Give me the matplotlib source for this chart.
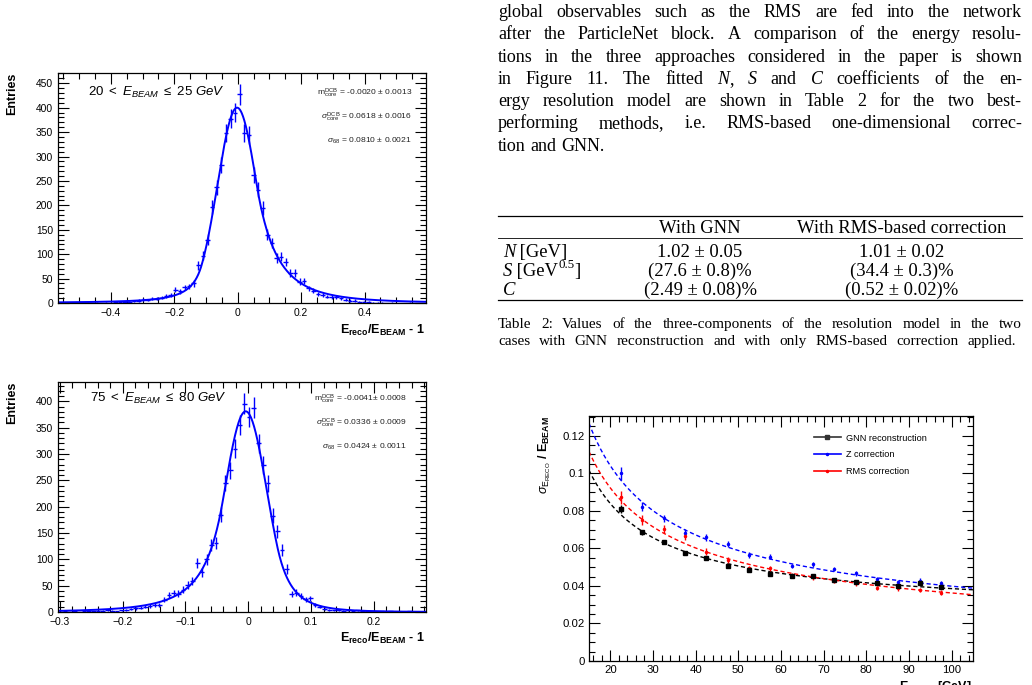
import numpy as np
import matplotlib
matplotlib.use('Agg')
import matplotlib.pyplot as plt
from matplotlib.ticker import MultipleLocator
from matplotlib.lines import Line2D

plt.rcParams['font.family'] = ['Liberation Sans', 'DejaVu Sans']
plt.rcParams['mathtext.fontset'] = 'custom'
plt.rcParams['mathtext.rm'] = 'Liberation Sans'
plt.rcParams['mathtext.it'] = 'Liberation Sans:italic'
plt.rcParams['mathtext.bf'] = 'Liberation Sans:bold'
plt.rcParams['mathtext.sf'] = 'Liberation Sans'
SERIF = ['Liberation Serif', 'DejaVu Serif']

W, H = 1032, 685

# ---------------- data ----------------
# histogram 20 < E_BEAM <= 25 GeV (80 bins)
top_range = (-0.567, 0.594)
top_counts = [0, 0, 0, 0, 0, 0, 1, 0, 1, 0,
              1, 1, 2, 2, 3, 3, 4, 5, 7, 6,
              9, 9, 11, 14, 17, 27, 24, 32, 34, 40,
              77, 97, 130, 196, 237, 283, 348, 377, 390, 427,
              348, 344, 262, 232, 194, 140, 123, 92, 95, 84,
              62, 62, 44, 45, 30, 25, 19, 16, 13, 12,
              12, 10, 7, 5, 5, 3, 3, 2, 1, 1,
              1, 0, 1, 0, 0, 0, 1, 0, 0, 0]
top_fit = dict(amp=400, mu=-0.0020, sig=0.0618, aL=1.8, nL=2.0, aR=1.0, nR=4.0)
top_title = r'$\mathit{20\ <\ E_{BEAM}}\ \leq\ \mathit{25\ GeV}$'
top_stats = [r'$\mathrm{m^{DCB}_{core}}$ = -0.0020 $\pm$ 0.0013',
             r'$\sigma^{\mathrm{DCB}}_{\mathrm{core}}$ = 0.0618 $\pm$ 0.0016',
             r'$\sigma_{\mathrm{68}}$ = 0.0810 $\pm$ 0.0021']

# histogram 75 < E_BEAM <= 80 GeV (78 bins)
bot_range = (-0.303, 0.283)
bot_counts = [0, 1, 0, 1, 0, 1, 1, 1, 2, 2,
              3, 2, 1, 3, 4, 6, 7, 8, 10, 12,
              13, 14, 23, 33, 36, 35, 42, 51, 59, 93,
              75, 100, 127, 131, 185, 245, 269, 310, 355, 395,
              370, 388, 320, 279, 244, 183, 153, 118, 82, 34,
              37, 31, 24, 26, 13, 10, 6, 4, 3, 3,
              2, 3, 2, 3, 2, 1, 1, 1, 1, 0,
              1, 0, 0, 0, 1, 0, 0, 0]
bot_fit = dict(amp=381, mu=-0.0041, sig=0.0336, aL=1.1, nL=4.0, aR=1.5, nR=5.0)
bot_title = r'$\mathit{75\ <\ E_{BEAM}}\ \leq\ \mathit{80\ GeV}$'
bot_stats = [r'$\mathrm{m^{DCB}_{core}}$ = -0.0041$\pm$ 0.0008',
             r'$\sigma^{\mathrm{DCB}}_{\mathrm{core}}$ = 0.0336 $\pm$ 0.0009',
             r'$\sigma_{\mathrm{68}}$ = 0.0424 $\pm$ 0.0011']

# resolution vs beam energy
e_beam = [22.5, 27.5, 32.5, 37.5, 42.5, 47.5, 52.5, 57.5,
          62.5, 67.5, 72.5, 77.5, 82.5, 87.5, 92.5, 97.5]
gnn_res = [0.0810, 0.0685, 0.0634, 0.0575, 0.0549, 0.0508, 0.0485, 0.0463,
           0.0454, 0.0454, 0.0431, 0.0422, 0.0417, 0.0401, 0.0414, 0.0396]
gnn_err = [0.0020, 0.0015, 0.0012, 0.0012, 0.0011, 0.0011, 0.0010, 0.0010,
           0.0010, 0.0010, 0.0010, 0.0010, 0.0010, 0.0010, 0.0010, 0.0010]
z_res = [0.0999, 0.0822, 0.0760, 0.0683, 0.0659, 0.0623, 0.0564, 0.0556,
         0.0506, 0.0515, 0.0490, 0.0467, 0.0437, 0.0422, 0.0428, 0.0414]
z_err = [0.0035, 0.0025, 0.0020, 0.0020, 0.0018, 0.0016, 0.0015, 0.0014,
         0.0013, 0.0013, 0.0012, 0.0012, 0.0012, 0.0012, 0.0012, 0.0012]
rms_res = [0.0872, 0.0751, 0.0703, 0.0667, 0.0582, 0.0538, 0.0493, 0.0493,
           0.0454, 0.0446, 0.0428, 0.0414, 0.0390, 0.0387, 0.0378, 0.0364]
rms_err = [0.0035, 0.0025, 0.0022, 0.0020, 0.0018, 0.0016, 0.0015, 0.0014,
           0.0013, 0.0013, 0.0012, 0.0012, 0.0012, 0.0012, 0.0012, 0.0012]
# N [GeV], S [GeV^0.5], C of the resolution model
gnn_nsc = (1.02, 0.276, 0.0249)
rms_nsc = (1.01, 0.344, 0.0052)
z_nsc = (1.20, 0.380, 0.0)

paragraph = [
    "global observables such as the RMS are fed into the network",
    "after the ParticleNet block. A comparison of the energy resolu-",
    "tions in the three approaches considered in the paper is shown",
    "in Figure 11.  The fitted *N*, *S* and *C* coefficients of the en-",
    "ergy resolution model are shown in Table 2 for the two best-",
    "performing methods, i.e. RMS-based one-dimensional correc-",
    "tion and GNN.",
]
table_header = ["With GNN", "With RMS-based correction"]
table_rows = [
    ([("N", "i"), (" [GeV]", "r")], "1.02 \u00b1 0.05", "1.01 \u00b1 0.02"),
    ([("S", "i"), (" [GeV", "r"), ("0.5", "sup"), ("]", "r")], "(27.6 \u00b1 0.8)%", "(34.4 \u00b1 0.3)%"),
    ([("C", "i")], "(2.49 \u00b1 0.08)%", "(0.52 \u00b1 0.02)%"),
]
caption = [
    "Table 2: Values of the three-components of the resolution model in the two",
    "cases with GNN reconstruction and with only RMS-based correction applied.",
]


def fx(x):
    return x / W


def fy(y):
    return 1 - y / H


def dcb(x, amp, mu, sig, aL, nL, aR, nR):
    t = (x - mu) / sig
    y = np.exp(-0.5 * t ** 2)
    l = t < -aL
    y[l] = np.exp(-0.5 * aL ** 2) * (aL / nL * (nL / aL - aL - t[l])) ** (-nL)
    r = t > aR
    y[r] = np.exp(-0.5 * aR ** 2) * (aR / nR * (nR / aR - aR + t[r])) ** (-nR)
    return amp * y


def resol(e, nsc):
    n, s, c = nsc
    return np.sqrt((n / e) ** 2 + (s / np.sqrt(e)) ** 2 + c ** 2)


fig = plt.figure(figsize=(W / 100, H / 100), dpi=100)


def root_axes(rect):
    ax = fig.add_axes([fx(rect[0]), fy(rect[3]), (rect[2] - rect[0]) / W, (rect[3] - rect[1]) / H])
    ax.tick_params(which='both', direction='in', top=True, right=True, width=0.8, colors='black')
    ax.tick_params(which='major', length=8)
    ax.tick_params(which='minor', length=4)
    for s in ax.spines.values():
        s.set_linewidth(0.9)
    return ax


def draw_hist(rect, rng, counts, fit, title, stats, xmaj, xmin, ylim, ypix, title_xy, stats_x, stats_y):
    ax = root_axes(rect)
    edges = np.linspace(rng[0], rng[1], len(counts) + 1)
    centers = 0.5 * (edges[1:] + edges[:-1])
    half = 0.5 * (edges[1] - edges[0])
    c = np.array(counts, dtype=float)
    ax.errorbar(centers, c, xerr=half, yerr=np.sqrt(c), fmt='none', ecolor='blue', elinewidth=1.0, capsize=0)
    xs = np.linspace(rng[0], rng[1], 1200)
    ax.plot(xs, dcb(xs, **fit), color='blue', lw=1.4)
    ax.set_xlim(rng)
    ax.set_ylim(ylim)
    ax.xaxis.set_major_locator(MultipleLocator(xmaj))
    ax.xaxis.set_minor_locator(MultipleLocator(xmin))
    ax.yaxis.set_major_locator(MultipleLocator(50))
    ax.yaxis.set_minor_locator(MultipleLocator(10))
    ax.tick_params(labelsize=7.4, pad=3.5)
    ax.xaxis.set_major_formatter(matplotlib.ticker.FuncFormatter(lambda v, p: ('%g' % round(v, 3)).replace('-', '\u2212')))
    fig.text(fx(12), fy(ypix[0]), 'Entries', rotation=90, ha='center', va='top', fontsize=9, weight='bold')
    fig.text(fx(425), fy(ypix[1]), r'$\mathbf{E_{reco}/E_{BEAM}}$ - 1', ha='right', va='center',
             fontsize=9, weight='bold')
    fig.text(fx(title_xy[0]), fy(title_xy[1]), title, ha='left', va='center', fontsize=9.5)
    for s, yy in zip(stats, stats_y):
        fig.text(fx(stats_x), fy(yy), s, ha='right', va='center', fontsize=6.1, color='#222222')
    return ax


draw_hist((58, 73, 426, 303), top_range, top_counts, top_fit, top_title, top_stats,
          0.2, 0.05, (0, 471), (73, 330), (88, 92), 412, (93, 117, 141))
draw_hist((58, 382, 426, 612), bot_range, bot_counts, bot_fit, bot_title, bot_stats,
          0.1, 0.02, (0, 436.7), (382, 638), (90, 398), 407, (399, 423, 447))

# ---------------- resolution plot ----------------
ax = root_axes((589, 416, 973, 661))
es = np.linspace(15, 105, 300)
ax.plot(es, resol(es, gnn_nsc), color='black', lw=1.0, ls=(0, (3, 2)))
ax.plot(es, resol(es, z_nsc), color='blue', lw=1.0, ls=(0, (3, 2)))
ax.plot(es, resol(es, rms_nsc), color='red', lw=1.0, ls=(0, (3, 2)))
ax.errorbar(e_beam, z_res, yerr=z_err, fmt='.', color='blue', ms=3, elinewidth=1.0, capsize=0)
ax.errorbar(e_beam, rms_res, yerr=rms_err, fmt='.', color='red', ms=3, elinewidth=1.0, capsize=0)
ax.errorbar(e_beam, gnn_res, yerr=gnn_err, fmt='s', color='black', ms=3.2, elinewidth=1.0, capsize=0)
ax.set_xlim(15, 105)
ax.set_ylim(0, 0.1305)
ax.xaxis.set_major_locator(MultipleLocator(10))
ax.xaxis.set_minor_locator(MultipleLocator(2))
ax.yaxis.set_major_locator(MultipleLocator(0.02))
ax.yaxis.set_minor_locator(MultipleLocator(0.005))
ax.yaxis.set_major_formatter(matplotlib.ticker.FuncFormatter(lambda v, p: '%g' % round(v, 3)))
ax.tick_params(labelsize=8.2, pad=3)
handles = [Line2D([], [], color='#333333', marker='s', ms=3.2, lw=1.2),
           Line2D([], [], color='blue', marker='.', ms=3, lw=1.2),
           Line2D([], [], color='red', marker='.', ms=3, lw=1.2)]
ax.legend(handles, ['GNN reconstruction', 'Z correction', 'RMS correction'], loc='upper left',
          bbox_to_anchor=(0.585, 0.928), frameon=False, fontsize=6.6, handlelength=3.0,
          handletextpad=0.5, labelspacing=0.85, borderpad=0, borderaxespad=0)
fig.text(fx(545), fy(416), r'$\sigma_{\mathrm{E_{RECO}}}$ $\mathbf{/\ E_{BEAM}}$', rotation=90,
         ha='center', va='top', fontsize=9, weight='bold')
fig.text(fx(972), fy(679), r'$\mathbf{E_{BEAM}}$ [GeV]', ha='right', va='top', fontsize=9, weight='bold')

# ---------------- text column ----------------
renderer = fig.canvas.get_renderer()


def parse(word):
    parts = word.split('*')
    return [(p, 'i' if i % 2 else 'r') for i, p in enumerate(parts) if p]


def put_segs(segs, x, y, fs):
    arts = []
    for s, st in segs:
        size = fs * 0.7 if st == 'sup' else fs
        yy = y - fs * 0.42 * 100 / 72 if st == 'sup' else y
        t = fig.text(fx(x), fy(yy), s, fontsize=size, family=SERIF,
                     style='italic' if st == 'i' else 'normal', va='baseline', ha='left')
        arts.append(t)
    xx = x
    for t in arts:
        t.set_x(fx(xx))
        xx += t.get_window_extent(renderer).width
    return xx - x


def put_line(line, x0, y, fs, x1=None):
    words = line.split()
    arts = []
    for w in words:
        row = [fig.text(0, fy(y), s, fontsize=fs, family=SERIF,
                        style='italic' if st == 'i' else 'normal', va='baseline', ha='left')
               for s, st in parse(w)]
        arts.append(row)
    widths = [[t.get_window_extent(renderer).width for t in row] for row in arts]
    total = sum(sum(w) for w in widths)
    if x1 is None or len(words) < 2:
        a = fig.text(0, 0, 'a a', fontsize=fs, family=SERIF).get_window_extent(renderer).width
        b = fig.text(0, 0, 'aa', fontsize=fs, family=SERIF).get_window_extent(renderer).width
        fig.texts[-1].remove()
        fig.texts[-1].remove()
        gap = a - b
    else:
        gap = (x1 - x0 - total) / (len(words) - 1)
    xx = x0
    for row, ws in zip(arts, widths):
        for t, w in zip(row, ws):
            t.set_x(fx(xx))
            xx += w
        xx += gap


FS = 13.0
X0, X1 = 498, 1022
for i, line in enumerate(paragraph):
    put_line(line, X0, 17 + i * 22.3, FS, None if i == len(paragraph) - 1 else X1)

# table
for yy, lw in ((216, 0.9), (238, 0.6), (300, 0.9)):
    fig.add_artist(Line2D([fx(X0), fx(X1)], [fy(yy), fy(yy)], color='black', lw=lw))
col_x = (700, 902)
for cx, h in zip(col_x, table_header):
    fig.text(fx(cx), fy(233), h, ha='center', va='baseline', fontsize=13.4, family=SERIF)
for i, (lab, v1, v2) in enumerate(table_rows):
    yy = 257 + i * 19
    put_segs(lab, 503, yy, 13.4)
    fig.text(fx(col_x[0]), fy(yy), v1, ha='center', va='baseline', fontsize=13.4, family=SERIF)
    fig.text(fx(col_x[1]), fy(yy), v2, ha='center', va='baseline', fontsize=13.4, family=SERIF)

# caption
put_line(caption[0], X0, 328, 11.0, X1)
put_line(caption[1], X0, 345, 11.0, 1016)

fig.savefig('out.png', dpi=100)
